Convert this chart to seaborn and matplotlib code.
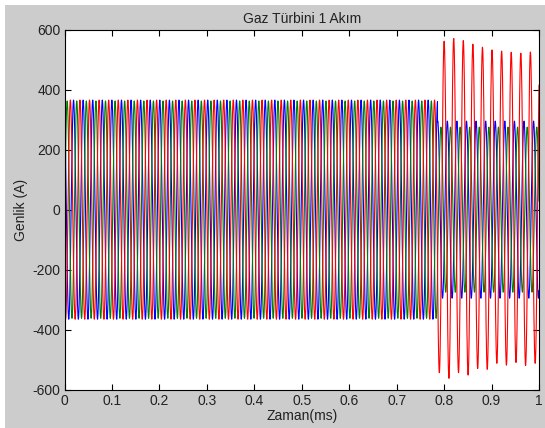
import numpy as np
import pandas as pd
import matplotlib
matplotlib.use("Agg")
import matplotlib.pyplot as plt
from matplotlib.patches import Rectangle
import seaborn as sns

# ---- data ----
title = "Gaz Türbini 1 Akım"
xlabel = "Zaman(ms)"
ylabel = "Genlik (A)"
xticks = [0, 0.1, 0.2, 0.3, 0.4, 0.5, 0.6, 0.7, 0.8, 0.9, 1]
xticklabels = ["0", "0.1", "0.2", "0.3", "0.4", "0.5", "0.6", "0.7", "0.8", "0.9", "1"]
yticks = [-600, -400, -200, 0, 200, 400, 600]
phases = ["B", "G", "R"]
phase_colors = {"B": "#0000ff", "G": "#008000", "R": "#ff0000"}
phase_shift_deg = {"R": 0, "B": -120, "G": 120}
freq = 49.5                 # cycles per time unit
first_fault_peak = 0.800    # time of first big red peak
fault_time = 0.786          # zero crossing where fault begins
pre_amp = {"R": 365, "B": 365, "G": 362}
post_amp = {"B": 295, "G": 275}
# red extremes after fault (half-cycle by half-cycle, trough first)
red_post_extremes = [-543, 561, -562, 570, -543, 563, -551, 551, -529, 541,
                     -532, 532, -512, 528, -518, 524, -509, 521, -519, 525, -512]

# ---- build waveforms ----
t = np.linspace(0, 1, 40001)
w = 2 * np.pi * freq
phi0 = np.pi / 2 - w * first_fault_peak
half = 0.5 / freq
rows = []
for p in phases:
    ph = phi0 + np.deg2rad(phase_shift_deg[p])
    s = np.sin(w * t + ph)
    amp = np.full_like(t, pre_amp[p], dtype=float)
    post = t >= fault_time
    if p == "R":
        k = np.floor((t - fault_time) / half).astype(int)
        k = np.clip(k, 0, len(red_post_extremes) - 1)
        amp_post = np.abs(np.array(red_post_extremes, dtype=float))[k]
        amp = np.where(post, amp_post, amp)
    else:
        amp = np.where(post, post_amp[p], amp)
    rows.append(pd.DataFrame({"t": t, "I": amp * s, "phase": p}))
df = pd.concat(rows, ignore_index=True)

# ---- draw ----
W, H = 545, 428
fig = plt.figure(figsize=(W / 100, H / 100), dpi=100, facecolor="white")
fig.patches.append(Rectangle((5 / W, 0), 1 - 5 / W, 1 - 5 / H, transform=fig.transFigure,
                             facecolor="#cccccc", edgecolor="none", zorder=-10))
ax = fig.add_axes([64.6 / W, 1 - 389.8 / H, (539 - 64.6) / W, (389.8 - 29.5) / H])
ax.set_facecolor("white")

sns.lineplot(data=df, x="t", y="I", hue="phase", hue_order=phases, palette=phase_colors,
             estimator=None, sort=False, linewidth=0.8, legend=False, ax=ax)

font = "Liberation Sans"
fs = 10
tc = "#222222"
ax.set_xlim(0, 1)
ax.set_ylim(-600, 600)
ax.set_xticks(xticks)
ax.set_xticklabels(xticklabels, fontfamily=font, fontsize=fs, color=tc)
ax.set_yticks(yticks)
ax.set_yticklabels([str(v) for v in yticks], fontfamily=font, fontsize=fs, color=tc)
ax.tick_params(direction="in", length=4, width=0.8, top=True, right=True, pad=3, colors="black",
               labelcolor=tc)
for sp in ax.spines.values():
    sp.set_color("black")
    sp.set_linewidth(0.8)
ax.set_title(title, fontfamily=font, fontsize=fs, pad=5, color=tc)
ax.set_xlabel(xlabel, fontfamily=font, fontsize=fs, labelpad=1, color=tc)
ax.set_ylabel(ylabel, fontfamily=font, fontsize=fs, labelpad=3, color=tc)

fig.savefig("out.png", dpi=100, facecolor=fig.get_facecolor())
